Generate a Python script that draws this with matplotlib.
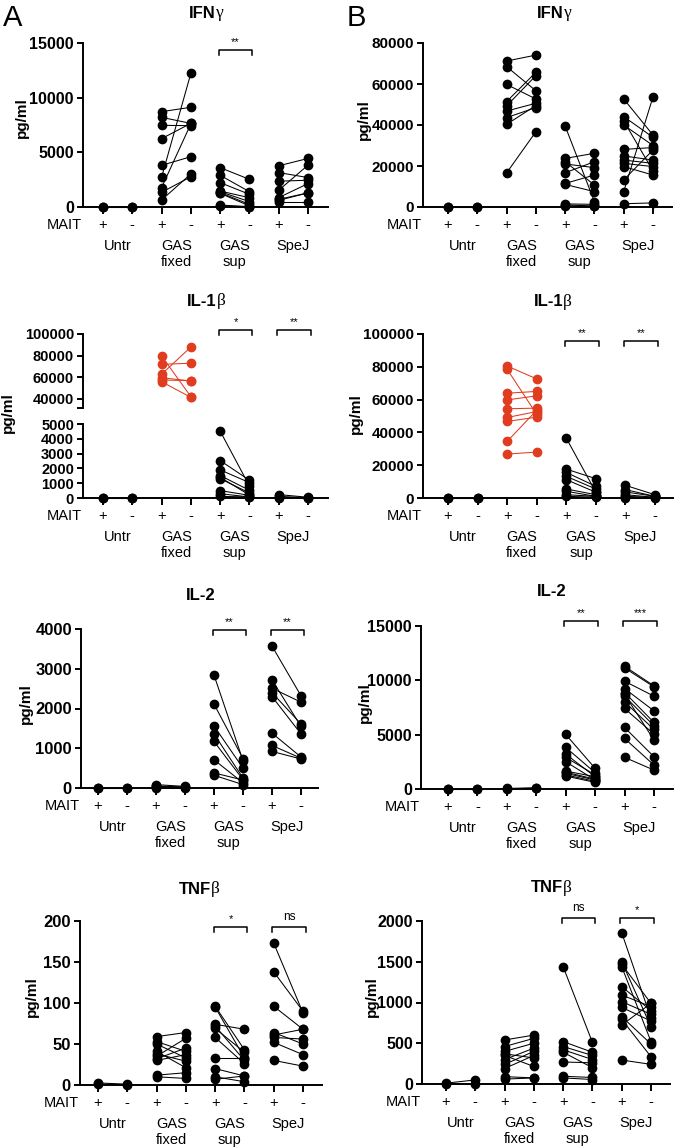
import numpy as np
import matplotlib.pyplot as plt

plt.rcParams['font.family'] = ['Liberation Sans', 'DejaVu Sans']

# each entry: (MAIT +, MAIT -) for one donor, pg/ml
IFNG_A_UNTR = [(0, 0), (0, 0)]
IFNG_A_FIXED = [(8720, 9120), (8200, 7650), (7470, 7440), (6250, 7650), (3810, 4600),
                (2710, 12230), (1770, 7600), (1340, 2770), (640, 3020)]
IFNG_A_SUP = [(3600, 2530), (2900, 1400), (2230, 1160), (1460, 850), (1400, 490),
              (1310, 240), (1250, 100), (180, 30), (120, 0)]
IFNG_A_SPEJ = [(3770, 4440), (3150, 2690), (2360, 2450), (1530, 3830), (860, 2140),
               (610, 1290), (490, 490), (700, 1290)]

IFNG_B_UNTR = [(0, 0), (0, 0)]
IFNG_B_FIXED = [(71200, 74100), (68500, 56700), (59800, 52700), (51400, 65700), (49300, 64100),
                (46800, 50600), (43600, 48500), (40300, 49500), (16600, 36700)]
IFNG_B_SUP = [(39500, 2600), (23700, 26200), (22100, 10700), (21000, 19200), (16700, 22100),
              (11500, 15600), (11000, 7500), (1500, 1300), (1000, 500), (500, 300)]
IFNG_B_SPEJ = [(52700, 35100), (44100, 34000), (42000, 17600), (40000, 30000), (28100, 29000),
               (24900, 22900), (22900, 21300), (21300, 19700), (19700, 15600), (13200, 27800),
               (7500, 53700), (1600, 2000)]

IL1B_A_UNTR = [(0, 0), (0, 0)]
IL1B_A_FIXED = [(79700, 42200), (72000, 73000), (62800, 88000), (59700, 56600),
                (57500, 57000), (56000, 41500)]
IL1B_A_SUP = [(4520, 810), (2530, 1200), (1900, 1040), (1520, 520), (1310, 340),
              (500, 180), (290, 70), (110, 70), (1400, 200)]
IL1B_A_SPEJ = [(230, 50), (110, 20), (20, 10)]

IL1B_B_UNTR = [(0, 0), (0, 0)]
IL1B_B_FIXED = [(80500, 72600), (78500, 51000), (63900, 65000), (59800, 62300), (54400, 54800),
                (49100, 52700), (46700, 49300), (34500, 53500), (26800, 28000)]
IL1B_B_SUP = [(36500, 3500), (17600, 11800), (15600, 7100), (13200, 5500), (11200, 3500),
              (5500, 2000), (4100, 1000), (2000, 1000), (1000, 500)]
IL1B_B_SPEJ = [(7700, 2000), (5100, 1000), (3700, 1000), (2000, 400), (1000, 400), (0, 0)]

IL2_A_UNTR = [(0, 0), (0, 0)]
IL2_A_FIXED = [(85, 40), (40, 15), (10, 10), (50, 25)]
IL2_A_SUP = [(2840, 690), (2110, 740), (1560, 500), (1360, 250), (1170, 210),
             (710, 130), (380, 200), (320, 85)]
IL2_A_SPEJ = [(3570, 2320), (2720, 1550), (2510, 2160), (2400, 1610), (2300, 1360),
              (1380, 780), (1070, 750), (920, 730)]

IL2_B_UNTR = [(0, 0), (0, 0)]
IL2_B_FIXED = [(50, 120), (30, 60)]
IL2_B_SUP = [(5020, 1900), (3830, 1500), (3210, 1130), (2910, 1300), (2510, 830),
             (1650, 1130), (1440, 830), (1190, 610), (1300, 700), (1550, 900)]
IL2_B_SPEJ = [(11290, 9490), (11140, 9400), (9920, 8540), (9240, 7190), (8880, 6120),
              (8540, 5820), (8020, 5480), (7410, 5050), (8700, 4500), (5660, 2970),
              (4650, 2200), (2910, 1740)]

TNFB_A_UNTR = [(2.5, 1), (1, 0.5)]
TNFB_A_FIXED = [(59, 64), (53, 41), (50, 33), (41, 21), (35, 57), (32, 45), (30, 37),
                (12, 15), (10, 8), (38, 29)]
TNFB_A_SUP = [(96, 43), (95, 33), (74, 68), (72, 30), (69, 40), (58, 26), (33, 33),
              (20, 11), (10, 4), (7, 11)]
TNFB_A_SPEJ = [(173, 88), (138, 90), (96, 68), (64, 50), (61, 68), (58, 56), (52, 37), (30, 23)]

TNFB_B_UNTR = [(10, 50), (0, 5)]
TNFB_B_FIXED = [(540, 600), (460, 560), (400, 500), (370, 320), (300, 440), (240, 400),
                (190, 350), (90, 75), (60, 75), (350, 215)]
TNFB_B_SUP = [(1440, 510), (520, 390), (460, 350), (420, 300), (390, 200), (270, 260),
              (95, 80), (75, 55)]
TNFB_B_SPEJ = [(1857, 806), (1500, 703), (1468, 990), (1440, 520), (1195, 900), (1092, 949),
               (1010, 855), (940, 773), (826, 491), (793, 335), (723, 990), (294, 241)]

GROUP_LABELS = [('Untr',), ('GAS', 'fixed'), ('GAS', 'sup'), ('SpeJ',)]
RED = '#E03C1F'

W, H = 677, 1148
fig = plt.figure(figsize=(W / 100, H / 100), dpi=100)
PT = 0.72  # points per pixel


def make_ax(left, right, top, bottom, c0, c7, ylim):
    ax = fig.add_axes([left / W, 1 - bottom / H, (right - left) / W, (bottom - top) / H])
    s = (c7 - c0) / 7
    ax.set_xlim((left - c0) / s, (right - c0) / s)
    ax.set_ylim(*ylim)
    for sp in ['top', 'right']:
        ax.spines[sp].set_visible(False)
    for sp in ['left', 'bottom']:
        ax.spines[sp].set_linewidth(1.4)
    ax.tick_params(width=1.4, length=4, pad=2.5)
    ax.patch.set_alpha(0)
    return ax


def plot_pairs(ax, groups, colors):
    for g, (pairs, col) in enumerate(zip(groups, colors)):
        for p, m in pairs:
            ax.plot([2 * g, 2 * g + 1], [p, m], color=col, lw=0.75, marker='o', ms=6,
                    clip_on=False, zorder=3)


def x_labels(ax):
    ax.set_xticks(range(8))
    ax.set_xticklabels([])
    ax.tick_params(axis='x', length=5)
    for i in range(8):
        ax.annotate('+' if i % 2 == 0 else '-', xy=(i, 0), xycoords=('data', 'axes fraction'),
                    xytext=(0, -18 * PT), textcoords='offset points',
                    ha='center', va='center', fontsize=10.5, annotation_clip=False)
    ax.annotate('MAIT', xy=(0, 0), xycoords='axes fraction', xytext=(-1 * PT, -18 * PT),
                textcoords='offset points', ha='right', va='center', fontsize=10.5,
                annotation_clip=False)
    for g, lines in enumerate(GROUP_LABELS):
        for k, line in enumerate(lines):
            ax.annotate(line, xy=(2 * g + 0.5, 0), xycoords=('data', 'axes fraction'),
                        xytext=(0, -(39 + 16 * k) * PT), textcoords='offset points',
                        ha='center', va='center', fontsize=10.5, annotation_clip=False)


def y_ticks(ax, ticks, size, extra=None):
    ax.set_yticks(ticks)
    ax.set_yticklabels([str(t) for t in ticks], fontweight='bold', fontsize=size)
    if extra is not None:
        ax.set_yticks([extra], minor=True)
        ax.tick_params(axis='y', which='minor', width=1.4, length=4)


def brackets(ax, sig, y):
    y0, y1 = ax.get_ylim()
    bb = ax.get_position()
    dpp = (y1 - y0) / (bb.height * H)
    for g, label in enumerate(sig):
        if not label:
            continue
        x0, x1 = 2 * g - 0.05, 2 * g + 1.1
        ax.plot([x0, x0, x1, x1], [y - 5 * dpp, y, y, y - 5 * dpp], color='k', lw=1.1,
                clip_on=False)
        off = 8 if label != 'ns' else 10
        ax.annotate(label, xy=((x0 + x1) / 2, y), xytext=(0, off * PT), textcoords='offset points',
                    ha='center', va='center', fontsize=8.5 if label == 'ns' else 8,
                    annotation_clip=False)


def title(x, y, bold, greek=''):
    t1 = fig.text(x / W, 1 - y / H, bold, fontweight='bold', fontsize=12, ha='left', va='center')
    r = fig.canvas.get_renderer()
    w1 = t1.get_window_extent(r).width
    w2 = 0
    if greek:
        t2 = fig.text(x / W, 1 - y / H, greek, family='Liberation Serif', fontsize=12.5,
                      ha='left', va='center')
        w2 = t2.get_window_extent(r).width
    start = x - (w1 + w2) / 2
    t1.set_x(start / W)
    if greek:
        t2.set_x((start + w1) / W)


def ylabel(x, y):
    fig.text(x / W, 1 - y / H, 'pg/ml', rotation=90, fontweight='bold', fontsize=11,
             ha='center', va='center')


black4 = ['k'] * 4

# IFN-gamma A
ax = make_ax(83, 328, 43, 207, 103, 308, (0, 15000))
plot_pairs(ax, [IFNG_A_UNTR, IFNG_A_FIXED, IFNG_A_SUP, IFNG_A_SPEJ], black4)
y_ticks(ax, [0, 5000, 10000, 15000], 11.5)
x_labels(ax)
brackets(ax, ['', '', '**', ''], 14360)
title(206, 13, 'IFN', 'γ')
ylabel(22, 118)

# IFN-gamma B
ax = make_ax(423, 672, 43, 207, 448, 653, (0, 80000))
plot_pairs(ax, [IFNG_B_UNTR, IFNG_B_FIXED, IFNG_B_SUP, IFNG_B_SPEJ], black4)
y_ticks(ax, [0, 20000, 40000, 60000, 80000], 11)
x_labels(ax)
title(554, 13, 'IFN', 'γ')
ylabel(364, 120)

# IL-1beta A (broken axis)
up = make_ax(83, 328, 334, 408, 103, 308, (31692, 100000))
up.spines['bottom'].set_visible(False)
up.set_xticks([])
plot_pairs(up, [[], IL1B_A_FIXED, [], []], ['k', RED, 'k', 'k'])
y_ticks(up, [40000, 60000, 80000, 100000], 10.5, extra=31692)
brackets(up, ['', '', '*', '**'], 103700)
ax = make_ax(83, 328, 424, 498, 103, 308, (0, 5000))
plot_pairs(ax, [IL1B_A_UNTR, [], IL1B_A_SUP, IL1B_A_SPEJ], black4)
y_ticks(ax, [0, 1000, 2000, 3000, 4000, 5000], 10.5)
x_labels(ax)
title(206, 301, 'IL-1', 'β')
ylabel(8, 413)

# IL-1beta B
ax = make_ax(423, 673, 334, 498, 448, 655, (0, 100000))
plot_pairs(ax, [IL1B_B_UNTR, IL1B_B_FIXED, IL1B_B_SUP, IL1B_B_SPEJ], ['k', RED, 'k', 'k'])
y_ticks(ax, [0, 20000, 40000, 60000, 80000, 100000], 11)
x_labels(ax)
brackets(ax, ['', '', '**', '**'], 95700)
title(553, 302, 'IL-1', 'β')
ylabel(356, 414)

# IL-2 A
ax = make_ax(81, 318, 629, 788, 98, 301, (0, 4000))
plot_pairs(ax, [IL2_A_UNTR, IL2_A_FIXED, IL2_A_SUP, IL2_A_SPEJ], black4)
y_ticks(ax, [0, 1000, 2000, 3000, 4000], 12)
x_labels(ax)
brackets(ax, ['', '', '**', '**'], 3980)
title(201, 596, 'IL-2')
ylabel(26, 704)

# IL-2 B
ax = make_ax(421, 673, 626, 789, 448, 654, (0, 15000))
plot_pairs(ax, [IL2_B_UNTR, IL2_B_FIXED, IL2_B_SUP, IL2_B_SPEJ], black4)
y_ticks(ax, [0, 5000, 10000, 15000], 11.5)
x_labels(ax)
brackets(ax, ['', '', '**', '***'], 15460)
title(552, 592, 'IL-2')
ylabel(365, 703)

# TNF-beta A
ax = make_ax(80, 322, 921, 1085, 98, 303, (0, 200))
plot_pairs(ax, [TNFB_A_UNTR, TNFB_A_FIXED, TNFB_A_SUP, TNFB_A_SPEJ], black4)
y_ticks(ax, [0, 50, 100, 150, 200], 12)
x_labels(ax)
brackets(ax, ['', '', '*', 'ns'], 192.7)
title(199, 889, 'TNF', 'β')
ylabel(32, 997)

# TNF-beta B
ax = make_ax(422, 670, 921, 1084, 446, 651, (0, 2000))
plot_pairs(ax, [TNFB_B_UNTR, TNFB_B_FIXED, TNFB_B_SUP, TNFB_B_SPEJ], black4)
y_ticks(ax, [0, 500, 1000, 1500, 2000], 11.5)
x_labels(ax)
brackets(ax, ['', '', 'ns', '*'], 2037)
title(551, 888, 'TNF', 'β')
ylabel(372, 997)

fig.text(13 / W, 1 - 18 / H, 'A', fontsize=21, ha='center', va='center')
fig.text(356 / W, 1 - 18 / H, 'B', fontsize=21, ha='center', va='center')

fig.savefig('out.png', dpi=100)
